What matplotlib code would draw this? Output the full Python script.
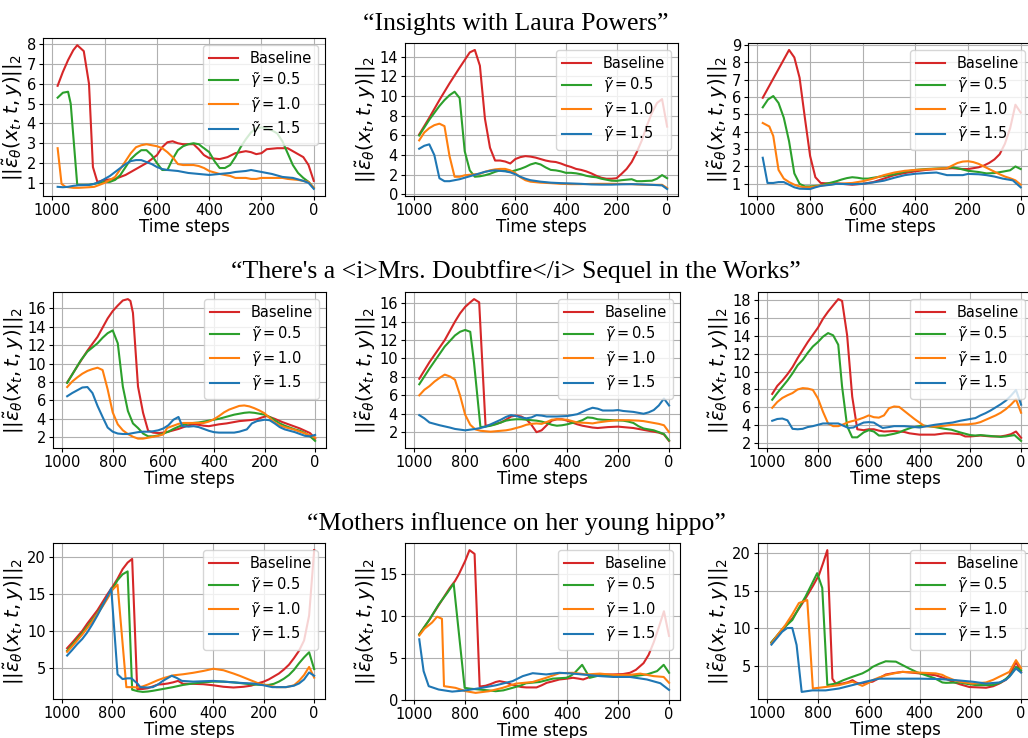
import numpy as np
import matplotlib
matplotlib.use("Agg")
import matplotlib.pyplot as plt

# row titles (prompts)
titles = ["\u201cInsights with Laura Powers\u201d",
          "\u201cThere's a <i>Mrs. Doubtfire</i> Sequel in the Works\u201d",
          "\u201cMothers influence on her young hippo\u201d"]

labels = ["Baseline", r"$\tilde{\gamma} = 0.5$", r"$\tilde{\gamma} = 1.0$", r"$\tilde{\gamma} = 1.5$"]
colors = ["tab:red", "tab:green", "tab:orange", "tab:blue"]

xticks = [1000, 800, 600, 400, 200, 0]
yticks = [list(range(1, 9)), list(range(0, 15, 2)), list(range(1, 10)),
          list(range(2, 17, 2)), list(range(2, 17, 2)), list(range(2, 19, 2)),
          [5, 10, 15, 20], [0, 5, 10, 15], [5, 10, 15, 20]]

# (time step, norm) pairs
# --- row 1, "Insights with Laura Powers"
ins1_base = [(980,5.9),(960,6.6),(940,7.2),(920,7.7),(905,7.95),(880,7.65),(860,6.0),(845,1.8),(828,1.05),(800,1.15),(760,1.2),(720,1.4),(680,1.7),(640,2.0),(600,2.4),(580,2.8),(560,3.05),(540,3.1),(520,3.0),(500,2.95),(460,2.95),(440,2.7),(420,2.4),(400,2.25),(360,2.2),(330,2.3),(300,2.5),(260,2.6),(240,2.55),(220,2.45),(200,2.5),(180,2.7),(140,2.75),(100,2.75),(80,2.6),(60,2.45),(40,2.3),(20,1.9),(0,1.1)]
ins1_g05 = [(980,5.3),(960,5.55),(940,5.6),(930,5.0),(905,0.9),(880,0.9),(860,0.9),(840,0.95),(820,1.0),(800,1.05),(780,1.05),(760,1.15),(740,1.4),(720,1.8),(700,2.2),(680,2.45),(660,2.65),(640,2.65),(620,2.4),(600,2.0),(580,1.65),(560,1.65),(540,2.2),(520,2.65),(500,2.85),(480,2.95),(460,3.0),(440,2.95),(420,2.75),(400,2.55),(380,2.1),(360,1.75),(340,1.75),(320,1.9),(300,2.3),(280,2.8),(260,3.2),(240,3.55),(220,3.75),(200,3.8),(180,3.75),(160,3.65),(140,3.5),(120,3.1),(100,2.5),(80,1.9),(60,1.5),(40,1.25),(20,1.05),(0,0.75)]
ins1_g10 = [(980,2.75),(965,0.95),(950,0.8),(920,0.75),(900,0.75),(860,0.78),(840,0.8),(820,0.9),(800,1.0),(780,1.15),(760,1.3),(740,1.7),(720,2.1),(700,2.5),(680,2.8),(660,2.9),(640,2.95),(620,2.9),(600,2.85),(580,2.75),(560,2.55),(540,2.3),(520,1.95),(500,1.9),(460,1.9),(440,1.85),(420,1.75),(400,1.6),(360,1.45),(320,1.35),(300,1.25),(260,1.25),(240,1.2),(220,1.2),(200,1.25),(160,1.25),(120,1.25),(100,1.2),(60,1.15),(40,1.1),(20,1.05),(0,0.75)]
ins1_g15 = [(980,0.8),(960,0.78),(940,0.8),(920,0.85),(900,0.88),(860,0.9),(840,0.95),(820,1.05),(800,1.2),(780,1.35),(760,1.55),(740,1.75),(720,1.95),(700,2.1),(680,2.15),(660,2.15),(640,2.05),(620,1.95),(600,1.8),(580,1.7),(560,1.65),(520,1.6),(480,1.5),(440,1.45),(400,1.4),(360,1.45),(320,1.5),(300,1.55),(260,1.6),(240,1.65),(220,1.6),(200,1.55),(160,1.45),(120,1.3),(80,1.25),(40,1.1),(20,1.0),(0,0.7)]

ins2_base = [(980,6.1),(940,7.8),(900,9.6),(860,11.3),(820,12.9),(780,14.45),(760,14.7),(740,13.1),(720,7.7),(700,4.75),(680,3.45),(660,3.45),(640,3.35),(620,3.15),(600,3.6),(580,3.8),(560,3.9),(540,3.85),(520,3.75),(500,3.6),(480,3.45),(460,3.35),(440,3.3),(420,3.15),(400,2.95),(380,2.8),(360,2.6),(340,2.5),(320,2.35),(300,2.15),(280,1.9),(260,1.7),(240,1.6),(220,1.6),(200,1.65),(180,2.1),(160,2.6),(140,3.3),(120,4.3),(100,5.5),(80,7.0),(60,8.3),(40,9.3),(20,9.7),(0,6.9)]
ins2_g05 = [(980,6.0),(940,7.6),(900,9.0),(880,9.6),(860,10.1),(840,10.45),(820,9.8),(800,4.4),(780,2.45),(760,1.8),(740,1.85),(720,1.95),(700,2.1),(680,2.3),(660,2.45),(640,2.4),(620,2.3),(600,2.45),(580,2.6),(560,2.8),(540,3.05),(520,3.2),(500,3.05),(480,2.75),(460,2.5),(440,2.45),(420,2.35),(400,2.2),(380,2.2),(360,2.15),(340,2.05),(320,1.9),(300,1.8),(280,1.75),(260,1.6),(240,1.5),(220,1.4),(200,1.38),(180,1.45),(160,1.5),(140,1.55),(120,1.35),(100,1.35),(80,1.38),(60,1.4),(40,1.6),(20,1.97),(0,1.65)]
ins2_g10 = [(980,5.5),(960,6.3),(940,6.75),(920,7.05),(900,7.2),(880,6.95),(860,3.9),(840,1.8),(820,1.8),(800,1.95),(760,2.05),(740,2.1),(720,2.3),(700,2.45),(680,2.55),(660,2.6),(640,2.6),(620,2.45),(600,2.15),(580,1.75),(560,1.45),(540,1.3),(500,1.2),(460,1.15),(420,1.08),(380,1.05),(340,1.05),(300,1.07),(260,1.08),(220,1.08),(180,1.07),(140,1.05),(100,1.0),(60,0.98),(20,0.98),(0,0.65)]
ins2_g15 = [(980,4.65),(960,4.95),(940,5.1),(920,4.0),(900,1.65),(880,1.35),(860,1.35),(840,1.45),(820,1.55),(800,1.7),(780,1.85),(760,2.0),(740,2.15),(720,2.3),(700,2.4),(680,2.45),(660,2.4),(640,2.35),(620,2.25),(600,2.05),(580,1.8),(560,1.6),(540,1.45),(500,1.3),(460,1.2),(420,1.15),(380,1.12),(340,1.08),(300,1.02),(260,1.0),(220,1.0),(180,1.03),(140,1.05),(100,1.02),(60,0.98),(20,0.92),(0,0.55)]

ins3_base = [(980,5.95),(960,6.5),(940,7.05),(920,7.6),(900,8.15),(880,8.7),(860,8.27),(840,7.1),(820,4.8),(800,2.6),(780,1.38),(760,1.05),(740,1.03),(700,1.03),(680,1.0),(640,0.95),(600,1.0),(580,1.05),(560,1.1),(520,1.3),(480,1.5),(440,1.62),(400,1.72),(360,1.8),(320,1.85),(280,1.88),(260,1.9),(220,1.85),(200,1.85),(160,1.95),(140,2.05),(120,2.2),(100,2.4),(80,2.7),(60,3.3),(40,4.2),(20,5.55),(0,5.1)]
ins3_g05 = [(980,5.4),(960,5.85),(940,6.05),(920,5.65),(900,4.8),(880,3.45),(860,1.6),(840,1.0),(820,0.85),(800,0.85),(780,0.88),(760,0.9),(740,1.0),(720,1.07),(700,1.15),(680,1.25),(660,1.33),(640,1.38),(620,1.35),(600,1.3),(580,1.3),(560,1.35),(520,1.45),(480,1.55),(440,1.7),(400,1.8),(360,1.85),(320,1.88),(280,1.9),(260,1.95),(240,1.9),(200,1.75),(160,1.68),(130,1.6),(100,1.62),(68,1.7),(40,1.78),(20,2.0),(0,1.85)]
ins3_g10 = [(980,4.5),(955,4.3),(940,3.75),(920,1.8),(900,1.3),(880,1.1),(860,0.95),(840,0.85),(820,0.8),(800,0.8),(780,0.85),(760,0.9),(720,0.97),(700,1.0),(640,1.05),(600,1.15),(560,1.3),(520,1.5),(480,1.65),(440,1.75),(400,1.8),(340,1.85),(280,1.9),(260,2.05),(240,2.2),(220,2.28),(200,2.3),(180,2.25),(160,2.15),(140,2.0),(120,1.85),(100,1.7),(80,1.55),(60,1.42),(40,1.32),(20,1.2),(0,0.95)]
ins3_g15 = [(980,2.5),(962,1.05),(940,1.05),(920,1.1),(900,1.1),(880,0.95),(860,0.8),(840,0.72),(800,0.7),(780,0.8),(760,0.88),(720,0.95),(700,1.0),(640,0.98),(600,1.0),(560,1.08),(520,1.18),(480,1.35),(440,1.5),(400,1.58),(360,1.62),(320,1.65),(280,1.5),(240,1.5),(220,1.5),(200,1.57),(160,1.55),(130,1.5),(100,1.42),(68,1.3),(30,1.2),(0,0.8)]

# --- row 2, "There's a Mrs. Doubtfire Sequel in the Works"
dbt1_base = [(980,7.95),(940,9.7),(900,11.4),(860,12.9),(840,13.9),(820,14.9),(800,15.7),(780,16.3),(760,16.85),(740,17.0),(730,16.8),(720,15.5),(700,7.5),(680,4.65),(660,2.7),(640,2.5),(620,2.45),(600,2.5),(580,2.6),(560,2.75),(540,2.9),(520,3.1),(500,3.3),(480,3.4),(460,3.35),(440,3.25),(420,3.2),(400,3.3),(380,3.4),(350,3.5),(300,3.75),(260,3.85),(230,3.95),(210,4.15),(190,4.3),(160,4.0),(130,3.65),(100,3.35),(60,2.95),(20,2.45),(0,1.85)]
dbt1_g05 = [(980,7.9),(925,10.4),(900,11.3),(860,12.2),(840,12.8),(820,13.3),(800,13.6),(780,12.2),(760,7.5),(740,4.85),(720,3.5),(700,3.0),(680,2.4),(660,2.1),(640,2.1),(620,2.2),(600,2.4),(580,2.6),(560,2.9),(540,3.15),(520,3.35),(500,3.5),(480,3.55),(460,3.6),(440,3.7),(420,3.8),(400,3.9),(380,4.0),(360,4.15),(340,4.3),(320,4.45),(300,4.55),(280,4.65),(260,4.7),(240,4.65),(220,4.55),(200,4.45),(180,4.2),(160,3.85),(140,3.5),(120,3.25),(100,3.05),(80,2.85),(60,2.7),(40,2.45),(20,2.1),(0,1.6)]
dbt1_g10 = [(980,7.45),(960,8.05),(940,8.5),(920,8.9),(900,9.2),(880,9.4),(860,9.55),(840,9.3),(820,7.2),(800,4.7),(780,3.4),(760,2.75),(740,2.35),(720,2.05),(700,1.85),(680,1.85),(660,1.95),(640,2.05),(620,2.15),(600,2.3),(585,3.0),(560,3.25),(540,3.45),(520,3.55),(480,3.55),(440,3.55),(420,3.7),(400,3.95),(380,4.3),(360,4.7),(340,5.0),(320,5.2),(300,5.4),(280,5.45),(260,5.35),(240,5.15),(220,4.9),(200,4.6),(180,4.1),(160,3.6),(140,3.3),(120,3.1),(100,2.95),(80,2.8),(60,2.6),(40,2.4),(20,2.2),(0,1.95)]
dbt1_g15 = [(980,6.45),(960,6.8),(940,7.1),(920,7.4),(900,7.45),(880,6.8),(860,5.4),(840,4.2),(820,3.05),(800,2.6),(780,2.4),(760,2.35),(740,2.35),(720,2.45),(700,2.55),(680,2.6),(660,2.6),(640,2.65),(620,2.75),(600,2.95),(580,3.3),(560,3.9),(540,4.2),(525,3.2),(500,3.15),(480,3.2),(460,3.1),(440,2.9),(420,2.7),(400,2.55),(380,2.5),(360,2.5),(320,2.5),(300,2.6),(270,2.85),(250,3.5),(230,3.75),(200,3.9),(180,3.85),(160,3.5),(140,3.1),(120,2.85),(100,2.7),(80,2.55),(60,2.35),(40,2.15),(20,2.1),(0,2.25)]

dbt2_base = [(980,7.8),(940,9.6),(900,11.2),(880,12.0),(860,13.0),(840,14.0),(820,14.9),(800,15.6),(780,16.1),(765,16.45),(745,16.1),(720,2.7),(700,2.75),(680,2.9),(660,3.05),(640,3.35),(620,3.7),(600,3.8),(580,3.7),(560,3.4),(540,2.8),(520,2.0),(500,2.2),(480,2.75),(460,3.25),(440,3.4),(420,3.4),(400,3.25),(380,3.05),(360,2.85),(340,2.7),(300,2.5),(280,2.45),(240,2.55),(200,2.6),(160,2.5),(140,2.45),(100,2.25),(80,2.15),(40,1.95),(20,1.75),(0,1.05)]
dbt2_g05 = [(980,7.2),(940,8.9),(900,10.5),(880,11.3),(860,11.9),(840,12.5),(820,12.9),(800,13.1),(780,12.9),(765,9.5),(740,2.55),(720,2.6),(700,2.7),(680,2.85),(660,3.05),(640,3.25),(620,3.35),(600,3.4),(580,3.4),(560,3.35),(540,3.3),(520,3.25),(500,3.15),(480,3.0),(460,2.8),(440,2.7),(420,2.75),(400,2.85),(380,3.0),(360,3.1),(340,3.3),(320,3.6),(300,3.55),(280,3.4),(260,3.35),(220,3.3),(180,3.25),(160,3.15),(140,3.0),(120,2.65),(100,2.4),(80,2.3),(60,2.2),(40,2.0),(20,1.8),(0,1.1)]
dbt2_g10 = [(980,6.0),(960,6.6),(940,7.0),(920,7.5),(900,7.9),(880,8.25),(860,8.05),(840,7.7),(820,6.0),(800,3.9),(780,2.8),(760,2.3),(740,2.15),(720,2.1),(700,2.05),(680,2.1),(660,2.15),(640,2.2),(620,2.3),(600,2.45),(580,2.6),(560,2.8),(540,2.9),(520,2.95),(500,2.9),(480,3.1),(460,3.35),(440,3.4),(400,3.35),(380,3.2),(360,3.05),(320,3.0),(300,2.95),(280,3.05),(240,3.2),(200,3.3),(160,3.3),(120,3.25),(100,3.2),(80,3.1),(60,3.0),(40,2.9),(20,2.75),(0,2.0)]
dbt2_g15 = [(980,3.85),(960,3.5),(940,3.05),(900,2.75),(860,2.5),(840,2.35),(800,2.2),(760,2.35),(740,2.45),(720,2.6),(700,2.85),(680,3.1),(660,3.35),(640,3.65),(620,3.85),(600,3.75),(580,3.6),(560,3.5),(540,3.6),(520,3.85),(500,3.8),(480,3.7),(440,3.7),(400,3.75),(380,3.85),(360,3.95),(340,4.2),(320,4.45),(300,4.65),(280,4.55),(260,4.35),(220,4.35),(200,4.4),(180,4.3),(140,4.2),(100,4.0),(80,4.15),(60,4.4),(40,4.9),(20,5.65),(0,4.9)]

dbt3_base = [(980,7.5),(960,8.4),(940,9.0),(920,9.7),(900,10.5),(880,11.5),(860,12.4),(840,13.3),(820,14.1),(800,14.9),(780,15.9),(760,16.7),(740,17.4),(720,18.1),(705,17.9),(685,14.05),(665,7.2),(645,3.55),(620,3.45),(600,3.55),(580,3.55),(560,3.4),(540,3.3),(500,3.35),(460,3.25),(440,3.1),(400,2.95),(340,2.95),(300,3.1),(280,3.1),(240,3.0),(220,2.75),(200,2.75),(160,2.85),(120,2.75),(80,2.75),(60,2.85),(40,3.0),(20,3.3),(0,2.6)]
dbt3_g05 = [(980,6.85),(960,7.6),(940,8.3),(920,9.0),(900,9.8),(880,10.7),(860,11.3),(840,12.1),(820,12.8),(800,13.3),(780,13.9),(760,14.3),(740,14.05),(720,13.0),(705,8.35),(685,3.9),(665,2.65),(645,2.65),(620,3.2),(600,3.45),(580,3.3),(560,2.85),(535,2.85),(500,3.05),(480,3.2),(460,3.45),(430,3.75),(400,3.9),(380,3.95),(340,3.8),(300,3.6),(274,3.5),(240,3.2),(200,2.9),(180,2.85),(160,2.9),(120,2.8),(80,2.7),(60,2.75),(26,2.9),(0,2.25)]
dbt3_g10 = [(980,5.95),(960,6.6),(940,7.05),(920,7.35),(900,7.6),(880,8.0),(860,8.15),(840,8.1),(820,7.95),(800,7.0),(780,5.5),(760,4.2),(740,3.9),(720,3.9),(700,4.1),(680,4.35),(660,4.5),(640,4.65),(620,4.85),(600,5.1),(580,4.9),(560,4.85),(540,5.1),(520,5.9),(500,6.1),(480,6.05),(460,5.6),(440,5.15),(420,4.7),(400,4.3),(380,3.9),(340,3.85),(300,3.95),(270,4.05),(210,4.1),(180,4.2),(160,4.35),(140,4.6),(120,4.85),(100,5.1),(80,5.4),(60,5.8),(40,6.3),(20,6.9),(0,5.4)]
dbt3_g15 = [(980,4.5),(960,4.7),(940,4.75),(920,4.55),(900,3.6),(880,3.55),(860,3.6),(840,3.8),(820,3.9),(800,4.05),(780,4.2),(760,4.2),(720,4.2),(700,3.95),(680,3.7),(660,3.75),(640,4.05),(620,4.3),(600,4.35),(580,4.3),(560,3.95),(545,3.7),(520,3.8),(500,3.9),(460,3.9),(420,3.8),(400,3.75),(360,3.95),(340,4.05),(300,4.2),(270,4.3),(240,4.5),(210,4.65),(180,4.8),(160,5.1),(140,5.35),(120,5.65),(100,6.0),(80,6.35),(60,6.75),(40,7.3),(20,7.95),(0,6.3)]

# --- row 3, "Mothers influence on her young hippo"
hip1_base = [(980,7.65),(960,8.4),(940,9.2),(920,10.0),(900,11.0),(880,11.9),(860,12.8),(840,13.9),(820,15.0),(800,16.0),(780,17.1),(760,18.4),(740,19.3),(722,19.8),(702,2.1),(680,2.1),(660,2.2),(640,2.45),(620,2.7),(600,2.75),(580,2.85),(560,3.0),(540,3.2),(520,2.8),(480,2.8),(440,2.75),(400,2.6),(360,2.4),(320,2.3),(280,2.4),(250,2.55),(220,2.9),(200,3.1),(180,3.4),(160,3.8),(140,4.2),(120,4.75),(100,5.4),(80,6.3),(60,7.3),(40,8.7),(20,12.1),(0,21.0)]
hip1_g05 = [(980,7.3),(960,8.1),(940,8.9),(920,9.7),(900,10.6),(880,11.5),(860,12.4),(840,13.5),(820,14.6),(800,15.7),(780,16.9),(760,17.7),(740,18.1),(722,2.0),(700,1.8),(680,1.7),(660,1.75),(640,1.85),(600,2.1),(560,2.35),(520,2.65),(480,2.85),(440,3.0),(400,3.1),(360,3.1),(320,3.0),(280,2.85),(240,2.7),(200,2.65),(180,2.65),(160,2.8),(140,3.1),(120,3.5),(100,4.0),(80,4.7),(60,5.6),(40,6.4),(20,7.1),(0,4.8)]
hip1_g10 = [(980,7.15),(960,7.9),(940,8.7),(920,9.5),(900,10.4),(880,11.3),(860,12.3),(840,13.3),(820,14.4),(800,15.6),(780,16.3),(745,2.35),(720,2.35),(700,2.3),(680,2.45),(660,2.7),(640,3.0),(620,3.3),(600,3.55),(580,3.75),(560,3.95),(520,4.1),(480,4.3),(440,4.55),(400,4.85),(360,4.65),(320,4.2),(296,3.9),(260,3.4),(220,2.85),(180,2.55),(150,2.35),(110,2.35),(80,2.6),(60,3.2),(40,4.0),(20,5.1),(0,3.65)]
hip1_g15 = [(980,6.65),(960,7.4),(940,8.2),(920,8.9),(900,9.8),(880,10.9),(860,12.1),(840,13.4),(820,14.7),(805,15.8),(780,4.1),(760,3.45),(740,3.55),(725,3.55),(700,2.8),(690,2.35),(660,2.3),(640,2.35),(620,2.7),(600,3.2),(580,3.6),(565,3.9),(545,3.6),(525,3.2),(480,3.1),(440,3.15),(400,3.2),(360,3.1),(322,3.0),(280,2.9),(244,2.85),(200,2.6),(166,2.35),(113,2.35),(80,2.55),(60,2.85),(40,3.4),(20,4.35),(0,3.9)]

hip2_base = [(980,7.85),(940,9.6),(900,11.5),(877,12.6),(860,13.4),(840,14.2),(825,15.0),(800,16.6),(783,17.9),(763,17.45),(743,1.6),(720,1.7),(700,1.9),(680,2.15),(665,2.25),(640,2.1),(620,1.85),(600,1.7),(580,1.55),(560,1.5),(520,1.5),(500,1.75),(480,2.05),(460,2.2),(430,2.45),(400,2.55),(377,2.65),(355,2.55),(337,2.45),(310,2.75),(284,3.05),(220,3.05),(180,3.1),(153,3.25),(130,3.6),(100,4.4),(80,5.4),(60,6.9),(40,8.7),(20,10.6),(0,7.65)]
hip2_g05 = [(980,7.85),(940,9.6),(904,11.4),(870,12.8),(845,13.9),(802,1.45),(780,1.35),(745,1.25),(710,1.15),(680,1.05),(650,1.15),(614,1.45),(580,1.75),(561,2.0),(508,2.15),(456,2.55),(403,2.65),(385,2.9),(370,3.25),(341,4.2),(311,2.65),(271,2.95),(219,2.85),(153,2.8),(100,3.0),(87,3.05),(47,3.45),(21,4.2),(0,3.25)]
hip2_g10 = [(980,7.7),(960,8.5),(930,9.25),(910,9.95),(891,9.7),(883,1.65),(860,1.55),(838,1.45),(798,1.05),(759,0.85),(706,1.05),(653,1.45),(601,1.95),(535,2.15),(482,2.65),(430,3.2),(377,3.25),(324,3.05),(271,3.15),(219,3.0),(153,3.0),(113,3.15),(61,2.85),(21,2.75),(0,2.05)]
hip2_g15 = [(980,7.25),(963,3.45),(943,1.65),(904,1.25),(851,1.0),(798,1.15),(745,1.4),(680,1.75),(614,2.25),(574,2.85),(535,3.2),(482,3.05),(430,3.25),(377,3.15),(324,3.0),(271,2.85),(219,2.75),(153,2.75),(87,2.45),(34,2.0),(0,1.2)]

hip3_base = [(983,8.15),(940,9.8),(901,11.3),(875,12.6),(849,13.95),(820,15.6),(796,17.05),(780,18.6),(763,20.35),(743,3.35),(730,2.7),(704,2.7),(680,2.9),(664,3.15),(650,2.85),(638,2.7),(585,2.95),(560,3.4),(533,3.9),(500,4.1),(467,4.25),(430,4.15),(401,4.05),(336,3.8),(300,3.4),(270,2.95),(240,2.6),(204,2.25),(170,2.2),(138,2.15),(110,2.35),(86,2.7),(60,3.2),(46,3.8),(20,5.55),(0,4.25)]
hip3_g05 = [(983,8.15),(940,9.9),(901,11.1),(875,12.7),(849,14.2),(825,15.8),(803,17.3),(783,15.35),(763,2.5),(730,2.7),(700,3.15),(664,3.6),(625,4.05),(600,4.5),(585,4.9),(560,5.3),(533,5.65),(493,5.6),(470,5.2),(441,4.7),(410,4.2),(375,3.8),(340,3.4),(310,2.85),(296,2.8),(243,2.85),(210,2.65),(178,2.5),(112,2.5),(80,2.85),(59,3.35),(40,3.9),(20,4.9),(0,4.45)]
hip3_g10 = [(983,8.0),(955,9.3),(928,10.45),(900,11.9),(875,13.35),(842,13.75),(820,2.05),(770,2.25),(717,2.5),(664,2.95),(640,2.6),(625,2.4),(600,2.8),(585,3.15),(560,3.5),(533,3.8),(500,4.05),(467,4.25),(401,4.15),(336,4.05),(310,3.85),(296,3.6),(270,3.25),(243,2.95),(191,2.7),(138,2.85),(110,3.2),(86,3.6),(46,4.25),(20,5.8),(0,4.75)]
hip3_g15 = [(983,7.85),(941,9.55),(921,10.05),(901,10.05),(884,7.8),(864,1.6),(822,1.8),(770,1.8),(717,2.05),(664,2.5),(612,2.95),(559,3.35),(493,3.35),(401,3.35),(322,3.3),(257,3.15),(191,2.95),(138,2.7),(86,2.85),(60,3.2),(46,3.6),(20,4.7),(0,4.15)]

panels = [
    [ins1_base, ins1_g05, ins1_g10, ins1_g15],
    [ins2_base, ins2_g05, ins2_g10, ins2_g15],
    [ins3_base, ins3_g05, ins3_g10, ins3_g15],
    [dbt1_base, dbt1_g05, dbt1_g10, dbt1_g15],
    [dbt2_base, dbt2_g05, dbt2_g10, dbt2_g15],
    [dbt3_base, dbt3_g05, dbt3_g10, dbt3_g15],
    [hip1_base, hip1_g05, hip1_g10, hip1_g15],
    [hip2_base, hip2_g05, hip2_g10, hip2_g15],
    [hip3_base, hip3_g05, hip3_g10, hip3_g15],
]

W, H = 1028, 738
# axes boxes in pixels: left, right, top, bottom
boxes = [(43, 325, 38, 196), (405, 678, 43, 196), (748, 1032, 43, 196),
         (53, 326, 292, 448), (405, 680, 292, 448), (758, 1032, 292, 448),
         (53, 325, 543, 699), (405, 680, 543, 700), (758, 1032, 543, 699)]
title_base = [30, 278, 530]

fig = plt.figure(figsize=(W / 100, H / 100), dpi=100)

for i, series in enumerate(panels):
    l, r, t, b = boxes[i]
    ax = fig.add_axes([l / W, 1 - b / H, (r - l) / W, (b - t) / H])
    for pts, lab, col in zip(series, labels, colors):
        arr = np.array(pts)
        ax.plot(arr[:, 0], arr[:, 1], color=col, lw=1.5, label=lab)
    ax.set_xlim(1036, -43)
    ax.set_xticks(xticks)
    ax.set_yticks(yticks[i])
    ax.tick_params(labelsize=10.5, length=3, pad=2)
    ax.grid(True)
    ax.set_xlabel("Time steps", fontsize=12, labelpad=0)
    ax.set_ylabel(r"$||\tilde{\epsilon}_\theta(x_t, t, y)||_2$", fontsize=14, labelpad=1)
    ax.legend(loc="upper right", fontsize=10.5, labelspacing=0.3)

for k, txt in enumerate(titles):
    fig.text(516 / W, 1 - title_base[k] / H, txt, ha="center", va="baseline",
             fontsize=18.5, family="Liberation Serif")

fig.savefig("out.png", dpi=100)
